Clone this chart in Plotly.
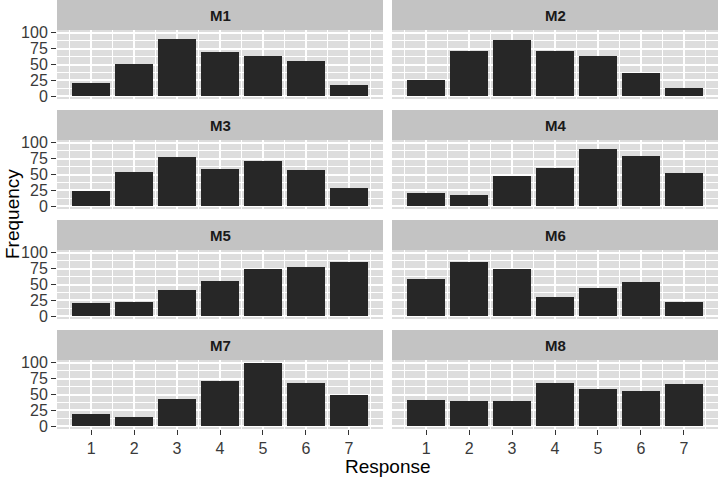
import plotly.graph_objects as go

# Response categories and frequency per measure
responses = [1, 2, 3, 4, 5, 6, 7]
panels = ["M1", "M2", "M3", "M4", "M5", "M6", "M7", "M8"]
m1 = [21, 51, 91, 69, 63, 55, 17]
m2 = [26, 71, 89, 71, 63, 37, 13]
m3 = [24, 54, 77, 59, 71, 57, 29]
m4 = [20, 18, 47, 61, 91, 79, 53]
m5 = [20, 22, 42, 56, 75, 77, 85]
m6 = [59, 85, 75, 31, 45, 54, 22]
m7 = [19, 15, 43, 71, 100, 68, 49]
m8 = [41, 39, 39, 68, 58, 55, 66]
y_ticks = [0, 25, 50, 75, 100]

values = [m1, m2, m3, m4, m5, m6, m7, m8]

W, H = 720, 478
col_left = [57, 392]
col_w = 326
row_top = [30, 140, 250, 360]
row_h = 69
strip_h = 30

strip_col = "#C3C3C3"
panel_col = "#DDDDDD"
bar_col = "#272727"
txt_col = "#3A3A3A"
font_fam = "Liberation Sans, Arial, sans-serif"

fig = go.Figure()
shapes = []
annotations = []

for i, (name, vals) in enumerate(zip(panels, values)):
    r, c = divmod(i, 2)
    n = i + 1
    xa = "x" if n == 1 else "x%d" % n
    ya = "y" if n == 1 else "y%d" % n
    fig.add_trace(go.Bar(x=responses, y=vals, width=0.9, xaxis=xa, yaxis=ya,
                         marker=dict(color=bar_col, line=dict(width=0)),
                         showlegend=False))

    x0 = col_left[c] / W
    x1 = (col_left[c] + col_w) / W
    y1 = 1 - row_top[r] / H
    y0 = 1 - (row_top[r] + row_h) / H
    bottom = r == 3
    left = c == 0

    xkey = "xaxis" if n == 1 else "xaxis%d" % n
    ykey = "yaxis" if n == 1 else "yaxis%d" % n
    fig.layout[xkey] = dict(
        domain=[x0, x1], anchor=ya, range=[0.205, 7.795],
        tickmode="array", tickvals=responses,
        showticklabels=bottom, ticks="outside" if bottom else "",
        ticklen=5, tickwidth=1.2, tickcolor="#333333",
        tickfont=dict(size=16, color=txt_col, family=font_fam),
        showgrid=True, gridcolor="white", gridwidth=1.6,
        minor=dict(tickmode="array", tickvals=[0.5, 1.5, 2.5, 3.5, 4.5, 5.5, 6.5, 7.5],
                   showgrid=True, gridcolor="white", gridwidth=0.8),
        zeroline=False, showline=False, fixedrange=True, automargin=False)
    fig.layout[ykey] = dict(
        domain=[y0, y1], anchor=xa, range=[-4.5, 104.5],
        tickmode="array", tickvals=y_ticks,
        showticklabels=left, ticks="outside" if left else "",
        ticklen=5, tickwidth=1.2, tickcolor="#333333",
        tickfont=dict(size=16, color=txt_col, family=font_fam),
        showgrid=True, gridcolor="white", gridwidth=1.6,
        minor=dict(tickmode="array", tickvals=[12.5, 37.5, 62.5, 87.5],
                   showgrid=True, gridcolor="white", gridwidth=0.8),
        zeroline=False, showline=False, fixedrange=True, automargin=False)

    # panel background and strip
    shapes.append(dict(type="rect", xref="paper", yref="paper", layer="below",
                       x0=x0, x1=x1, y0=y0, y1=y1, fillcolor=panel_col, line=dict(width=0)))
    sy1 = 1 - (row_top[r] - strip_h) / H
    shapes.append(dict(type="rect", xref="paper", yref="paper", layer="below",
                       x0=x0, x1=x1, y0=y1, y1=sy1, fillcolor=strip_col, line=dict(width=0)))
    annotations.append(dict(text="<b>%s</b>" % name, xref="paper", yref="paper",
                            x=(x0 + x1) / 2, y=(y1 + sy1) / 2, showarrow=False,
                            xanchor="center", yanchor="middle",
                            font=dict(size=15, color="#1A1A1A", family=font_fam)))

annotations.append(dict(text="Response", xref="paper", yref="paper",
                        x=(57 + 718) / 2 / W, y=1 - 466 / H, showarrow=False,
                        xanchor="center", yanchor="middle",
                        font=dict(size=19, color="black", family=font_fam)))
annotations.append(dict(text="Frequency", xref="paper", yref="paper",
                        x=12 / W, y=1 - 214 / H, showarrow=False, textangle=-90,
                        xanchor="center", yanchor="middle",
                        font=dict(size=19, color="black", family=font_fam)))

fig.update_layout(width=W, height=H, margin=dict(l=0, r=0, t=0, b=0),
                  paper_bgcolor="white", plot_bgcolor="rgba(0,0,0,0)",
                  bargap=0, shapes=shapes, annotations=annotations)

fig.write_html("out.html", config={"displayModeBar": False},
               post_script="document.body.style.margin='0';")
